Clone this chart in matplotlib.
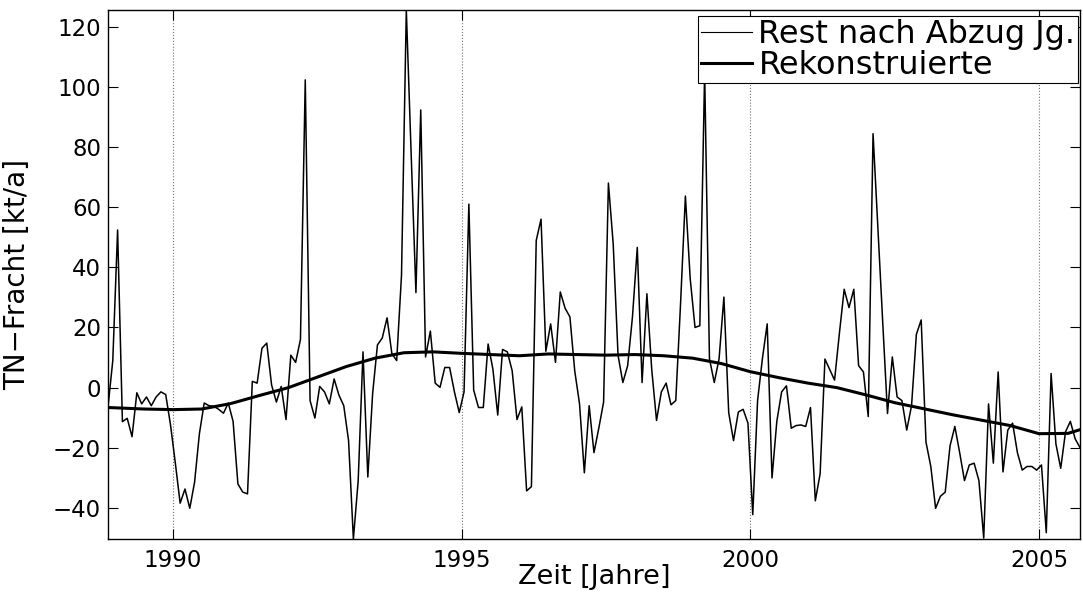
import numpy as np
import matplotlib
matplotlib.use("Agg")
from matplotlib import pyplot as plt

# monthly residual load, starting Nov 1988 (mid-month)
start_year = 1988
start_month = 11
rest = [
    -6.5, 9.0, 52.4, -11.3, -10.2, -16.3, -1.7, -5.4, -3.1, -6.0,
    -3.1, -1.4, -2.3, -12.4, -25.1, -38.4, -33.7, -40.1, -31.4, -15.3,
    -5.1, -6.0, -6.2, -7.2, -8.5, -5.1, -11.2, -32.0, -34.7, -35.3,
    2.1, 1.5, 13.1, 14.8, 0.9, -4.8, 0.4, -10.6, 10.8, 8.4,
    16.0, 102.3, -4.3, -10.1, 0.4, -1.4, -5.4, 2.9, -2.5, -6.0,
    -17.6, -50.3, -30.9, 11.9, -29.7, -2.0, 14.2, 16.5, 23.2, 11.3,
    9.0, 37.3, 125.5, 78.0, 31.6, 92.3, 10.2, 18.8, 1.5, 0.1,
    6.7, 6.7, -1.4, -8.3, -1.4, 61.0, -0.8, -6.6, -6.6, 14.5,
    6.1, -9.1, 12.7, 11.9, 5.6, -10.6, -6.4, -34.3, -32.9, 48.9,
    56.0, 12.1, 21.2, 8.4, 31.8, 26.4, 23.5, 5.6, -5.4, -28.3,
    -6.0, -21.6, -13.5, -4.8, 68.0, 47.7, 10.8, 1.7, 7.3, 23.5,
    46.6, 1.7, 31.2, 6.1, -10.9, -1.4, 1.5, -5.7, -4.3, 28.1,
    63.7, 36.2, 20.0, 20.6, 105.0, 9.6, 1.7, 9.6, 30.1, -8.3,
    -17.6, -8.1, -7.2, -11.8, -42.2, -4.3, 9.6, 21.2, -30.0, -11.2,
    -1.4, 0.6, -13.5, -12.6, -12.4, -12.9, -6.6, -37.6, -28.6, 9.5,
    6.0, 2.5, 18.0, 32.7, 26.6, 32.7, 7.3, 5.2, -9.6, 84.4,
    53.0, 22.0, -8.6, 10.2, -3.1, -4.3, -14.1, -6.0, 17.7, 22.5,
    -18.1, -26.2, -40.1, -36.1, -34.7, -19.3, -12.9, -21.6, -30.9, -25.7,
    -25.1, -30.9, -50.0, -5.4, -25.1, 5.2, -28.0, -14.1, -11.8, -21.6,
    -27.4, -26.2, -26.2, -27.4, -25.7, -48.2, 4.7, -18.7, -26.8, -14.7,
    -11.2, -17.0, -19.9,
]

rek_t = [1988.875, 1989.5, 1990.0, 1990.5, 1991.0, 1991.5, 1992.0, 1992.5,
         1993.0, 1993.5, 1994.0, 1994.5, 1995.0, 1995.5, 1996.0, 1996.5,
         1997.0, 1997.5, 1998.0, 1998.5, 1999.0, 1999.5, 2000.0, 2000.5,
         2001.0, 2001.5, 2002.0, 2002.5, 2003.0, 2003.5, 2004.0, 2004.5,
         2005.0, 2005.5, 2005.79]
rek = [-6.6, -7.1, -7.3, -7.1, -5.3, -2.6, 0.0, 3.5,
       7.0, 9.8, 11.6, 11.9, 11.4, 11.0, 10.6, 11.2,
       11.0, 10.8, 11.0, 10.6, 9.8, 8.0, 5.3, 3.3,
       1.5, 0.0, -2.4, -5.0, -7.0, -9.0, -10.8, -12.6,
       -15.3, -15.2, -13.5]

labels = ["Rest nach Abzug Jg.", "Rekonstruierte"]

t = start_year + (start_month - 1 + 0.5 + np.arange(len(rest))) / 12.0

plt.rcParams['font.family'] = ['DejaVu Sans']

fig = plt.figure(figsize=(10.83, 5.94), dpi=100)
ax = fig.add_axes([0.0997, 0.0926, 0.8975, 0.8905])

ax.plot(t, rest, color='k', linewidth=1.1, label=labels[0])
ax.plot(rek_t, rek, color='k', linewidth=2.2, label=labels[1])

ax.set_xlim(t[0], t[-1])
ax.set_ylim(min(rest), max(rest))
ax.set_xticks([1990, 1995, 2000, 2005])
ax.set_yticks(np.arange(-40, 121, 20))
ax.xaxis.grid(True, linestyle=':', color='0.45', linewidth=0.8)

ax.tick_params(direction='in', length=7, width=0.8, top=True, right=True,
               labelsize=16.5, pad=5)
ax.tick_params(axis='x', pad=7)
for s in ax.spines.values():
    s.set_linewidth(1.0)

ax.set_xlabel("Zeit [Jahre]", fontsize=19.5, labelpad=0)
ax.set_ylabel("TN\u2212Fracht [kt/a]", fontsize=20)
ax.yaxis.set_label_coords(-0.079, 0.5)
ax.xaxis.set_label_coords(0.5, -0.047)

leg = ax.legend(loc='upper right', bbox_to_anchor=(0.998, 0.988),
                fontsize=23, frameon=True, fancybox=False, framealpha=1,
                edgecolor='k', borderpad=0.08, labelspacing=0.0,
                handlelength=1.6, handletextpad=0.2, borderaxespad=0)
leg.get_frame().set_linewidth(0.8)
leg.get_lines()[0].set_linewidth(0.8)

fig.savefig("out.png", dpi=100)
